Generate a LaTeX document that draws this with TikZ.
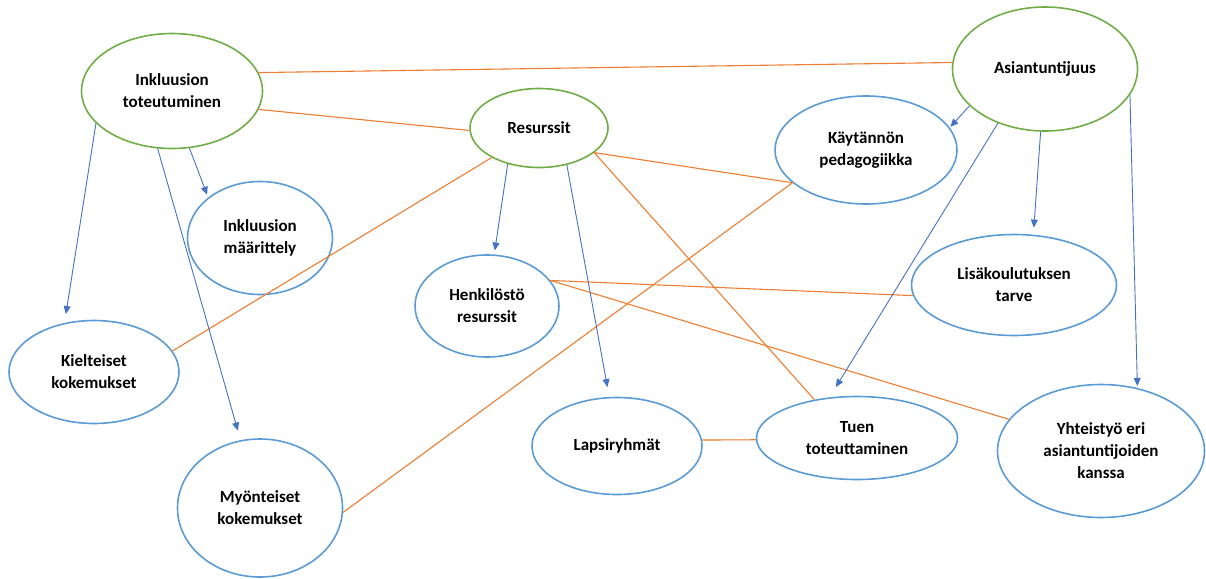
\documentclass[tikz,border=0pt]{standalone}
\usepackage{fontspec}
\setmainfont{Carlito}
\usetikzlibrary{shapes.geometric, arrows.meta, positioning}
\definecolor{themegreen}{RGB}{112,173,71}
\definecolor{topicblue}{RGB}{91,155,213}
\definecolor{linkorange}{RGB}{237,125,49}
\definecolor{arrowblue}{RGB}{68,114,196}
\tikzstyle{theme} = [ellipse, draw=themegreen, line width=1.6pt, inner sep=0pt, align=center, font=\bfseries\fontsize{17}{22}\selectfont]
\tikzstyle{topic} = [ellipse, draw=topicblue, line width=1.6pt, inner sep=0pt, align=center, font=\bfseries\fontsize{17}{22}\selectfont]
\tikzstyle{link} = [draw=linkorange, line width=1.1pt]
\tikzstyle{arrow} = [draw=arrowblue, line width=0.9pt, -{Triangle[length=8pt,width=7pt]}]

\begin{document}
\begin{tikzpicture}[x=1pt, y=-1pt, node distance=100pt]
	\useasboundingbox (0,0) rectangle (1206,578);

	\node (incTot) [theme, minimum width=181pt, minimum height=115pt] at (172,91) {Inkluusion\\toteutuminen};
	\node (res) [theme, minimum width=138pt, minimum height=79pt] at (539,128) {Resurssit};
	\node (expert) [theme, minimum width=185pt, minimum height=124pt] at (1045,69) {Asiantuntijuus};

	\node (incDef) [topic, minimum width=145pt, minimum height=113pt, below of=incTot, xshift=88pt, yshift=-47pt] {Inkluusion\\määrittely};
	\node (negExp) [topic, minimum width=170pt, minimum height=103pt, below of=incTot, xshift=-78pt, yshift=-181pt] {Kielteiset\\kokemukset};
	\node (posExp) [topic, minimum width=165pt, minimum height=138pt, below of=incDef, yshift=-170pt] {Myönteiset\\kokemukset};

	\node (staff) [topic, minimum width=144pt, minimum height=102pt, below of=res, xshift=-52pt, yshift=-78pt] {Henkilöstö\\resurssit};
	\node (groups) [topic, minimum width=170pt, minimum height=97pt, below of=staff, xshift=130pt, yshift=-40pt] {Lapsiryhmät};
	\node (support) [topic, minimum width=201pt, minimum height=83pt, right of=groups, xshift=140pt, yshift=8pt] {Tuen\\toteuttaminen};

	\node (practice) [topic, minimum width=182pt, minimum height=108pt, left of=expert, xshift=-79pt, yshift=-81pt] {Käytännön\\pedagogiikka};
	\node (training) [topic, minimum width=205pt, minimum height=101pt, below of=expert, xshift=-31pt, yshift=-116pt] {Lisäkoulutuksen\\tarve};
	\node (coop) [topic, minimum width=207pt, minimum height=133pt, below of=training, xshift=87pt, yshift=-66pt] {Yhteistyö eri\\asiantuntijoiden\\kanssa};

	\draw [link] (incTot.12) -- (expert.176);
	\draw [link] (incTot.348) -- (res.182);
	\draw [link] (res.212) -- (negExp.15);
	\draw [link] (res.336) -- (practice.204);
	\draw [link] (res.336) -- (support.138);
	\draw [link] (posExp.357) -- (practice.204);
	\draw [link] (staff.22) -- (training.186);
	\draw [link] (staff.22) -- (coop.161);
	\draw [link] (groups.4) -- (support.181);

	\draw [arrow, shorten >=9pt] (incTot.203) -- (negExp.121);
	\draw [arrow, shorten >=3pt] (incTot.287) -- (incDef.142);
	\draw [arrow, shorten >=10pt] (incTot.256) -- (posExp.106);
	\draw [arrow, shorten >=4pt] (res.229) -- (staff.82);
	\draw [arrow, shorten >=10pt] (res.307) -- (groups.99);
	\draw [arrow, shorten >=1pt] (expert.206) -- (practice.15);
	\draw [arrow, shorten >=12pt] (expert.229) -- (support.124);
	\draw [arrow, shorten >=7pt] (expert.266) -- (training.69);
	\draw [arrow, shorten >=2pt] (expert.343) -- (coop.60);
\end{tikzpicture}
\end{document}
